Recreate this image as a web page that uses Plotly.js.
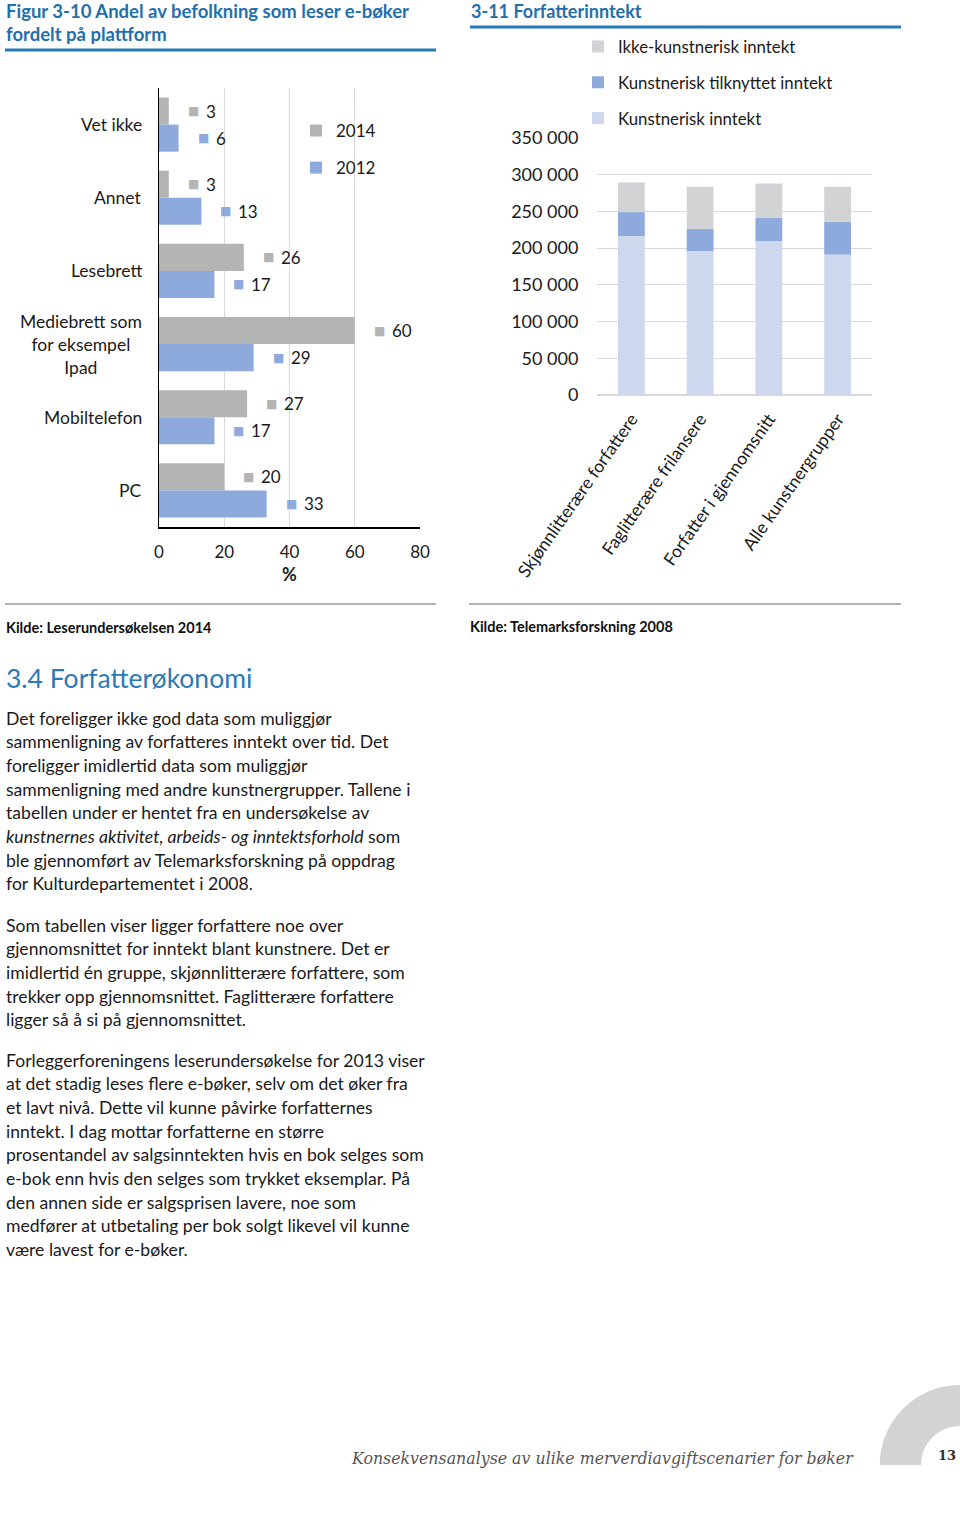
<!DOCTYPE html>
<html>
<head>
<meta charset="utf-8">
<script src="https://cdn.plot.ly/plotly-3.0.1.min.js"></script>
<style>
  html, body { margin: 0; padding: 0; background: #ffffff; }
  #page { width: 960px; height: 1520px; }
</style>
</head>
<body>
<div id="page"></div>
<script>
// ---------- Data: Figur 3-10 ----------
const platforms = ["Vet ikke", "Annet", "Lesebrett", "Mediebrett som for eksempel Ipad", "Mobiltelefon", "PC"];
const platformLabels = ["Vet ikke", "Annet", "Lesebrett", "Mediebrett som<br>for eksempel<br>Ipad", "Mobiltelefon", "PC"];
const share2014 = [3, 3, 26, 60, 27, 20];
const share2012 = [6, 13, 17, 29, 17, 33];
const pctTicks = [0, 20, 40, 60, 80];

// ---------- Data: 3-11 Forfatterinntekt ----------
const groups = ["Skjønnlitterære forfattere", "Faglitterære frilansere", "Forfatter i gjennomsnitt", "Alle kunstnergrupper"];
const kunstneriskInntekt = [216000, 196000, 209000, 191000];
const kunstneriskTilknyttet = [33000, 30000, 32000, 44500];
const ikkeKunstnerisk = [40500, 57500, 47000, 48000];

// ---------- Text ----------
const para1 = [
  "Det foreligger ikke god data som muliggjør",
  "sammenligning av forfatteres inntekt over tid. Det",
  "foreligger imidlertid data som muliggjør",
  "sammenligning med andre kunstnergrupper. Tallene i",
  "tabellen under er hentet fra en undersøkelse av",
  "<i>kunstnernes aktivitet, arbeids- og inntektsforhold</i> som",
  "ble gjennomført av Telemarksforskning på oppdrag",
  "for Kulturdepartementet i 2008."
];
const para2 = [
  "Som tabellen viser ligger forfattere noe over",
  "gjennomsnittet for inntekt blant kunstnere. Det er",
  "imidlertid én gruppe, skjønnlitterære forfattere, som",
  "trekker opp gjennomsnittet. Faglitterære forfattere",
  "ligger så å si på gjennomsnittet."
];
const para3 = [
  "Forleggerforeningens leserundersøkelse for 2013 viser",
  "at det stadig leses flere e-bøker, selv om det øker fra",
  "et lavt nivå. Dette vil kunne påvirke forfatternes",
  "inntekt. I dag mottar forfatterne en større",
  "prosentandel av salgsinntekten hvis en bok selges som",
  "e-bok enn hvis den selges som trykket eksemplar. På",
  "den annen side er salgsprisen lavere, noe som",
  "medfører at utbetaling per bok solgt likevel vil kunne",
  "være lavest for e-bøker."
];

// ---------- Helpers ----------
const W = 960, H = 1520;
const px = x => x / W;
const py = y => 1 - y / H;
const FONT = "Lato, 'Open Sans', sans-serif";
const GRAY14 = "#b4b4b4", BLUE12 = "#8eaadc";
const C_KUNST = "#cdd8ef", C_TILK = "#8eaadc", C_IKKE = "#d2d3d5";
const TITLE_BLUE = "#1f6fae";

function txt(x, y, text, size, color, extra) {
  return Object.assign({
    xref: "paper", yref: "paper", x: px(x), y: py(y),
    xanchor: "left", yanchor: "middle", showarrow: false,
    text: text, font: { family: FONT, size: size, color: color }
  }, extra || {});
}

// ---------- Traces ----------
const traces = [
  {
    type: "bar", orientation: "h", name: "2014",
    x: share2014, y: platforms, xaxis: "x", yaxis: "y",
    marker: { color: GRAY14 }, legend: "legend", legendgroup: "a", hoverinfo: "skip"
  },
  {
    type: "bar", orientation: "h", name: "2012",
    x: share2012, y: platforms, xaxis: "x", yaxis: "y",
    marker: { color: BLUE12 }, legend: "legend", legendgroup: "b", hoverinfo: "skip"
  },
  {
    type: "bar", name: "Ikke-kunstnerisk inntekt",
    x: groups, y: ikkeKunstnerisk,
    base: kunstneriskInntekt.map((v, i) => v + kunstneriskTilknyttet[i]),
    xaxis: "x2", yaxis: "y2",
    offsetgroup: "s", width: 0.39, offset: -0.195,
    marker: { color: C_IKKE }, legend: "legend2", legendgroup: "k3", hoverinfo: "skip"
  },
  {
    type: "bar", name: "Kunstnerisk tilknyttet inntekt",
    x: groups, y: kunstneriskTilknyttet, base: kunstneriskInntekt, xaxis: "x2", yaxis: "y2",
    offsetgroup: "s", width: 0.39, offset: -0.195,
    marker: { color: C_TILK }, legend: "legend2", legendgroup: "k2", hoverinfo: "skip"
  },
  {
    type: "bar", name: "Kunstnerisk inntekt",
    x: groups, y: kunstneriskInntekt, xaxis: "x2", yaxis: "y2",
    offsetgroup: "s", width: 0.39, offset: -0.195,
    marker: { color: C_KUNST }, legend: "legend2", legendgroup: "k1", hoverinfo: "skip"
  }
];

// ---------- Annotations ----------
const ann = [];
// Titles
ann.push(txt(4, 11, "<b>Figur 3-10 Andel av befolkning som leser e-bøker</b>", 18.5, TITLE_BLUE));
ann.push(txt(4, 34, "<b>fordelt på plattform</b>", 18.5, TITLE_BLUE));
ann.push(txt(469, 11, "<b>3-11 Forfatterinntekt</b>", 18, TITLE_BLUE));
// Sources
ann.push(txt(4, 627, "<b>Kilde: Leserundersøkelsen 2014</b>", 14.5, "#111"));
ann.push(txt(468, 626, "<b>Kilde: Telemarksforskning 2008</b>", 14.5, "#111"));
// Section heading
ann.push(txt(4, 678, "3.4 Forfatterøkonomi", 26.5, "#2a7ab8"));
// Paragraphs
[[para1, 718], [para2, 925], [para3, 1060]].forEach(([lines, y0]) => {
  lines.forEach((l, i) => ann.push(txt(4, y0 + i * 23.7, l, 17.6, "#1a1a1a")));
});
// Footer
ann.push({
  xref: "paper", yref: "paper", x: px(349), y: py(1458), xanchor: "left", yanchor: "middle",
  showarrow: false, text: "<i>Konsekvensanalyse av ulike merverdiavgiftscenarier for bøker</i>",
  font: { family: "'DejaVu Serif', serif", size: 15.8, color: "#555" }
});
ann.push({
  xref: "paper", yref: "paper", x: px(958), y: py(1455), xanchor: "right", yanchor: "middle",
  showarrow: false, text: "<b>13</b>",
  font: { family: "'DejaVu Serif', serif", size: 13, color: "#333" }
});

// Category labels for left chart
platforms.forEach((c, i) => {
  ann.push({
    xref: "paper", yref: "y", x: px(144), y: c, xanchor: "right", yanchor: "middle",
    align: "center", showarrow: false, text: platformLabels[i],
    font: { family: FONT, size: 17.5, color: "#1a1a1a" }
  });
});
// Data labels for left chart
function dataLabel(v, c, shift, color) {
  ann.push({
    xref: "x", yref: "y", x: v, y: c, xanchor: "left", yanchor: "middle", xshift: 17, yshift: shift,
    showarrow: false, text: "■", font: { family: "'DejaVu Sans'", size: 12, color: color }
  });
  ann.push({
    xref: "x", yref: "y", x: v, y: c, xanchor: "left", yanchor: "middle", xshift: 35, yshift: shift,
    showarrow: false, text: String(v), font: { family: FONT, size: 17, color: "#1a1a1a" }
  });
}
platforms.forEach((c, i) => {
  dataLabel(share2014[i], c, 13.5, GRAY14);
  dataLabel(share2012[i], c, -13.5, BLUE12);
});

// ---------- Shapes ----------
const shapes = [
  { type: "line", xref: "paper", yref: "paper", x0: px(5), x1: px(436), y0: py(50), y1: py(50), line: { color: "#2479b8", width: 3 } },
  { type: "line", xref: "paper", yref: "paper", x0: px(470), x1: px(901), y0: py(27), y1: py(27), line: { color: "#2479b8", width: 3 } },
  { type: "line", xref: "paper", yref: "paper", x0: px(5), x1: px(436), y0: py(604), y1: py(604), line: { color: "#9a9a9a", width: 1.5 } },
  { type: "line", xref: "paper", yref: "paper", x0: px(469), x1: px(901), y0: py(604), y1: py(604), line: { color: "#9a9a9a", width: 1.5 } }
];
// Footer quarter ring
(function () {
  const cx = 960, cy = 1465, R = 80, r = 39, k = 0.5523;
  const P = (x, y) => px(x) + "," + py(y);
  const path = "M" + P(cx - R, cy) +
    " C" + P(cx - R, cy - R * k) + " " + P(cx - R * k, cy - R) + " " + P(cx, cy - R) +
    " L" + P(cx, cy - r) +
    " C" + P(cx - r * k, cy - r) + " " + P(cx - r, cy - r * k) + " " + P(cx - r, cy) + " Z";
  shapes.push({ type: "path", xref: "paper", yref: "paper", path: path, fillcolor: "#d3d3d3", line: { width: 0 }, layer: "below" });
})();

// ---------- Layout ----------
const layout = {
  width: W, height: H,
  margin: { l: 0, r: 0, t: 0, b: 0 },
  paper_bgcolor: "#ffffff", plot_bgcolor: "rgba(0,0,0,0)",
  font: { family: FONT, color: "#1a1a1a" },
  separators: ", ",
  barmode: "group", bargap: 0.26, bargroupgap: 0,
  showlegend: true,
  xaxis: {
    domain: [px(159), px(420)], anchor: "y", range: [0, 80], tickvals: pctTicks,
    showgrid: true, gridcolor: "#d9d9d9", gridwidth: 1, zeroline: false,
    showline: true, linecolor: "#000", linewidth: 1.5,
    ticks: "outside", ticklen: 9, tickcolor: "rgba(0,0,0,0)",
    tickfont: { family: FONT, size: 17, color: "#1a1a1a" },
    title: { text: "<b>%</b>", font: { family: FONT, size: 18, color: "#1a1a1a" }, standoff: 7 },
    fixedrange: true
  },
  yaxis: {
    domain: [py(527), py(88)], anchor: "x", type: "category",
    categoryorder: "array", categoryarray: platforms, autorange: "reversed",
    showgrid: false, zeroline: false, showline: true, linecolor: "#000", linewidth: 1.5,
    showticklabels: false, ticks: "", fixedrange: true
  },
  xaxis2: {
    domain: [px(597), px(872)], anchor: "y2", type: "category",
    categoryorder: "array", categoryarray: groups,
    showgrid: false, zeroline: false, showline: false,
    ticks: "outside", ticklen: 6, tickcolor: "rgba(0,0,0,0)", tickangle: -55,
    tickfont: { family: FONT, size: 17.5, color: "#1a1a1a" }, fixedrange: true
  },
  yaxis2: {
    domain: [py(395), py(138)], anchor: "x2", range: [0, 350000], dtick: 50000, tick0: 0,
    tickformat: ",d", showgrid: true, gridcolor: "#d9d9d9", gridwidth: 1.2,
    zeroline: true, zerolinecolor: "#d9d9d9", zerolinewidth: 1.2, showline: false,
    ticks: "outside", ticklen: 14, tickcolor: "rgba(0,0,0,0)",
    tickfont: { family: FONT, size: 18, color: "#1a1a1a" }, fixedrange: true
  },
  legend: {
    x: px(296), y: py(113), xanchor: "left", yanchor: "top",
    traceorder: "grouped", tracegroupgap: 12, bgcolor: "rgba(0,0,0,0)",
    font: { family: FONT, size: 17, color: "#1a1a1a" }, itemclick: false
  },
  legend2: {
    x: px(578), y: py(29), xanchor: "left", yanchor: "top",
    traceorder: "grouped", tracegroupgap: 11, bgcolor: "rgba(0,0,0,0)",
    font: { family: FONT, size: 16.8, color: "#1a1a1a" }, itemclick: false
  },
  annotations: ann,
  shapes: shapes
};

Plotly.newPlot("page", traces, layout, { displayModeBar: false, staticPlot: true });
</script>
</body>
</html>
